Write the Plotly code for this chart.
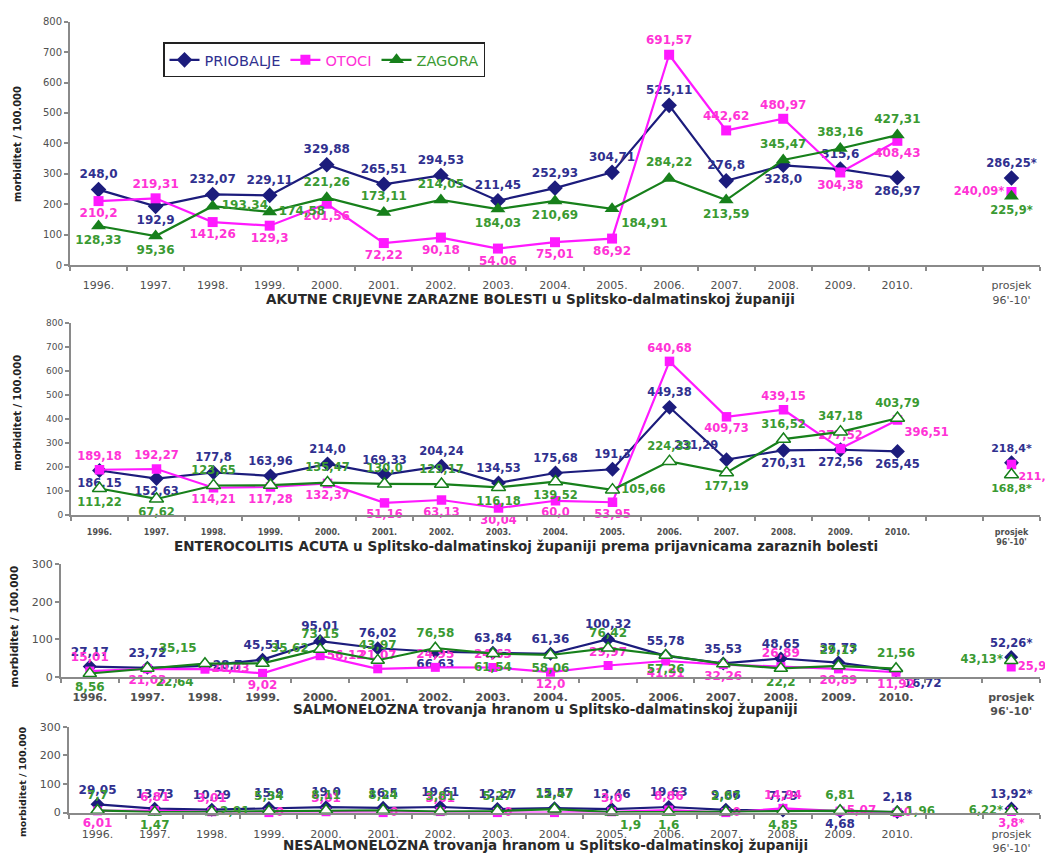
import plotly.graph_objects as go

# ---------------------------------------------------------------- data
years = ["1996.", "1997.", "1998.", "1999.", "2000.", "2001.", "2002.", "2003.",
         "2004.", "2005.", "2006.", "2007.", "2008.", "2009.", "2010."]
avg_tick = "prosjek<br>96'-10'"
series_names = ["PRIOBALJE", "OTOCI", "ZAGORA"]

# AKUTNE CRIJEVNE ZARAZNE BOLESTI
ak_priobalje = [248.0, 192.9, 232.07, 229.11, 329.88, 265.51, 294.53, 211.45,
                252.93, 304.71, 525.11, 276.8, 328.0, 315.6, 286.97]
ak_otoci = [210.2, 219.31, 141.26, 129.3, 201.56, 72.22, 90.18, 54.06,
            75.01, 86.92, 691.57, 442.62, 480.97, 304.38, 408.43]
ak_zagora = [128.33, 95.36, 193.34, 174.58, 221.26, 173.11, 214.05, 184.03,
             210.69, 184.91, 284.22, 213.59, 345.47, 383.16, 427.31]
ak_prosjek = [286.25, 240.09, 225.9]

# ENTEROCOLITIS ACUTA
en_priobalje = [186.15, 152.63, 177.8, 163.96, 214.0, 169.33, 204.24, 134.53,
                175.68, 191.3, 449.38, 231.29, 270.31, 272.56, 265.45]
en_otoci = [189.18, 192.27, 114.21, 117.28, 132.37, 51.16, 63.13, 30.04,
            60.0, 53.95, 640.68, 409.73, 439.15, 277.52, 396.51]
en_zagora = [111.22, 67.62, 123.65, 124.8, 135.47, 130.0, 129.17, 116.18,
             139.52, 105.66, 224.33, 177.19, 316.52, 347.18, 403.79]
en_prosjek = [218.4, 211.4, 168.8]

# SALMONELOZNA trovanja hranom
sa_priobalje = [27.17, 23.72, 28.7, 45.51, 95.01, 76.02, 66.63, 63.84,
                61.36, 100.32, 55.78, 35.53, 48.65, 37.73, 16.72]
sa_otoci = [15.01, 21.03, 20.03, 9.02, 56.12, 21.07, 24.95, 24.63,
            12.0, 29.97, 41.91, 32.26, 26.89, 20.89, 11.92]
sa_zagora = [8.56, 22.64, 35.15, 35.62, 73.15, 43.97, 76.58, 61.54,
             58.06, 76.42, 57.26, 34.1, 22.2, 29.17, 21.56]
sa_prosjek = [52.26, 25.9, 43.13]

# NESALMONELOZNA trovanja hranom
ne_priobalje = [29.05, 13.73, 10.29, 15.9, 19.0, 16.5, 19.61, 12.27,
                15.57, 12.46, 19.63, 9.66, 7.79, 4.68, 2.18]
ne_otoci = [6.01, 6.81, 3.01, 0, 3.01, 0, 3.61, 0,
            0, 3.0, 8.86, 0, 14.94, 5.07, 0]
ne_zagora = [7.7, 1.47, 2.91, 5.34, 8.11, 8.24, 3.81, 5.27,
             12.47, 1.9, 1.6, 2.87, 4.85, 6.81, 1.96]
ne_prosjek = [13.92, 3.8, 6.22]

# ---------------------------------------------------------------- style
NAVY, NAVY_TXT = "#1c1c7c", "#30308f"
PINK, PINK_TXT = "#ff19ff", "#ff33d6"
GREEN, GREEN_TXT = "#17801b", "#3a9a32"
AXIS = "#8a8a8a"
TICK_TXT = "#505050"
FONT = "DejaVu Sans, Verdana, sans-serif"

POS = {"T": "top center", "B": "bottom center", "L": "middle left",
       "R": "middle right", "TL": "top left", "TR": "top right",
       "BL": "bottom left", "BR": "bottom right"}

COLORS = [(NAVY, NAVY_TXT), (PINK, PINK_TXT), (GREEN, GREEN_TXT)]


def fmt(v):
    s = str(v) if isinstance(v, int) else repr(float(v))
    return s.replace(".", ",")


def markers(idx, open_triangle, size_scale=1.0):
    line_col, _ = COLORS[idx]
    if idx == 0:
        return dict(symbol="diamond", size=12 * size_scale, color=line_col)
    if idx == 1:
        return dict(symbol="square", size=10 * size_scale, color=line_col)
    if open_triangle:
        return dict(symbol="triangle-up", size=13 * size_scale, color="white",
                    line=dict(color=line_col, width=1.5))
    return dict(symbol="triangle-up", size=13 * size_scale, color=line_col)


panels = [
    dict(ax="", values=[ak_priobalje, ak_otoci, ak_zagora], avg=ak_prosjek,
         pos=[["T", "B", "T", "T", "T", "T", "T", "T", "T", "T", "T", "T", "B", "T", "B"],
              ["B", "T", "B", "B", "B", "B", "B", "B", "B", "B", "T", "T", "T", "B", "B"],
              ["B", "B", "R", "R", "T", "T", "T", "B", "B", "BR", "T", "B", "T", "T", "T"]],
         avgpos=["T", "L", "B"], hidden=[[], [], []], open_tri=False,
         label_size=12, tick_size=11, ytick_size=10, msc=1.0,
         xdom=[70 / 1045, 1040 / 1045], ydom=[1 - 263 / 859, 1 - 16 / 859],
         yrange=[0, 800], standoff=9, tick_bold=False,
         title="AKUTNE CRIJEVNE ZARAZNE BOLESTI u Splitsko-dalmatinskoj županiji",
         title_xy=(530, 297), ytitle_xy=(18, 140), ytitle_size=10),
    dict(ax="2", values=[en_priobalje, en_otoci, en_zagora], avg=en_prosjek,
         pos=[["B", "B", "T", "T", "T", "T", "T", "T", "T", "T", "T", "TL", "B", "B", "B"],
              ["T", "T", "B", "B", "B", "B", "B", "B", "B", "B", "T", "B", "T", "T", "BR"],
              ["B", "B", "T", "T", "T", "T", "T", "B", "B", "R", "T", "B", "T", "T", "T"]],
         avgpos=["T", "BR", "B"], hidden=[[], [], [3]], open_tri=True,
         label_size=11.5, tick_size=8, ytick_size=9, msc=0.95,
         xdom=[71 / 1045, 1040 / 1045], ydom=[1 - 517 / 859, 1 - 322 / 859],
         yrange=[0, 800], standoff=8, tick_bold=True,
         title="ENTEROCOLITIS ACUTA u Splitsko-dalmatinskoj županiji prema prijavnicama zaraznih bolesti",
         title_xy=(526, 548), ytitle_xy=(18, 413), ytitle_size=10),
    dict(ax="3", values=[sa_priobalje, sa_otoci, sa_zagora], avg=sa_prosjek,
         pos=[["T", "T", "R", "T", "T", "T", "B", "T", "T", "T", "T", "T", "T", "T", "BR"],
              ["T", "B", "R", "B", "R", "T", "T", "T", "B", "T", "B", "B", "T", "B", "B"],
              ["B", "BR", "TL", "TR", "T", "T", "T", "B", "B", "T", "B", "T", "B", "T", "T"]],
         avgpos=["T", "R", "L"], hidden=[[], [], [11]], open_tri=True,
         label_size=12, tick_size=11, ytick_size=11, msc=0.9,
         xdom=[61 / 1045, 1040 / 1045], ydom=[1 - 681 / 859, 1 - 567 / 859],
         yrange=[0, 300], standoff=9, tick_bold=True,
         title="SALMONELOZNA trovanja hranom u Splitsko-dalmatinskoj županiji",
         title_xy=(545, 714), ytitle_xy=(14, 630), ytitle_size=10.5),
    dict(ax="4", values=[ne_priobalje, ne_otoci, ne_zagora], avg=ne_prosjek,
         pos=[["T", "T", "T", "T", "T", "T", "T", "T", "T", "T", "T", "T", "T", "B", "T"],
              ["B", "T", "T", "R", "T", "R", "T", "R", "T", "T", "T", "R", "T", "R", "R"],
              ["T", "B", "R", "T", "T", "T", "T", "T", "T", "BR", "B", "T", "B", "T", "R"]],
         avgpos=["T", "B", "L"], hidden=[[], [8], []], open_tri=True,
         label_size=12, tick_size=11, ytick_size=11, msc=0.9,
         xdom=[69 / 1045, 1040 / 1045], ydom=[1 - 819 / 859, 1 - 732 / 859],
         yrange=[0, 300], standoff=10, tick_bold=False,
         title="NESALMONELOZNA trovanja hranom u Splitsko-dalmatinskoj županiji",
         title_xy=(545, 852), ytitle_xy=(22, 788), ytitle_size=9.5),
]

fig = go.Figure()
layout = {}
annotations = []

for p in panels:
    xa, ya = "x" + p["ax"], "y" + p["ax"]
    xs = list(range(len(years)))
    for i, vals in enumerate(p["values"]):
        line_col, txt_col = COLORS[i]
        labels = ["" if k in p["hidden"][i] else fmt(v) for k, v in enumerate(vals)]
        fig.add_trace(go.Scatter(
            x=xs, y=vals, xaxis=xa, yaxis=ya, mode="lines+markers+text",
            line=dict(color=line_col, width=2.2),
            marker=markers(i, p["open_tri"], p["msc"]),
            text=labels, textposition=[POS[c] for c in p["pos"][i]],
            textfont=dict(family=FONT, size=p["label_size"], color=txt_col, weight="bold"),
            cliponaxis=False, showlegend=False, hoverinfo="skip"))
        fig.add_trace(go.Scatter(
            x=[16], y=[p["avg"][i]], xaxis=xa, yaxis=ya, mode="markers+text",
            marker=markers(i, p["open_tri"], p["msc"]),
            text=[fmt(p["avg"][i]) + "*"], textposition=POS[p["avgpos"][i]],
            textfont=dict(family=FONT, size=p["label_size"] - 0.5, color=txt_col, weight="bold"),
            cliponaxis=False, showlegend=False, hoverinfo="skip"))

    key = p["ax"]
    layout["xaxis" + key] = dict(
        domain=p["xdom"], anchor=ya, range=[-0.5, 16.5],
        tickmode="array", tickvals=list(range(15)) + [16], ticktext=years + [avg_tick],
        ticks="", ticklabelstandoff=p["standoff"],
        tickfont=dict(family=FONT, size=p["tick_size"], color=TICK_TXT,
                      weight="bold" if p["tick_bold"] else "normal"),
        showline=True, linecolor=AXIS, linewidth=2, showgrid=False, zeroline=False,
        minor=dict(tickmode="array", tickvals=[k - 0.5 for k in range(18)],
                   ticks="outside", ticklen=4, tickwidth=1.5, tickcolor=AXIS, showgrid=False),
        fixedrange=True)
    layout["yaxis" + key] = dict(
        domain=p["ydom"], anchor=xa, range=p["yrange"], dtick=100,
        ticks="outside", ticklen=4, tickwidth=1.5, tickcolor=AXIS,
        tickfont=dict(family=FONT, size=p["ytick_size"], color=TICK_TXT),
        showline=True, linecolor=AXIS, linewidth=2, showgrid=False, zeroline=False,
        fixedrange=True)

    tx, ty = p["title_xy"]
    annotations.append(dict(
        text=p["title"], x=tx / 1045, y=1 - ty / 859, xref="paper", yref="paper",
        showarrow=False, xanchor="center", yanchor="middle",
        font=dict(family=FONT, size=13.5, color="#2a2a2a", weight="bold")))
    yx, yy = p["ytitle_xy"]
    annotations.append(dict(
        text="morbiditet / 100.000", x=yx / 1045, y=1 - yy / 859, xref="paper",
        yref="paper", showarrow=False, textangle=-90, xanchor="center", yanchor="middle",
        font=dict(family=FONT, size=p["ytitle_size"], color="#222222", weight="bold")))

# legend entries
for i, name in enumerate(series_names):
    line_col, txt_col = COLORS[i]
    fig.add_trace(go.Scatter(
        x=[None], y=[None], mode="lines+markers",
        line=dict(color=line_col, width=2.2), marker=markers(i, False),
        name=f'<span style="color:{txt_col}">{name}</span>', showlegend=True))

fig.update_layout(
    width=1045, height=859, margin=dict(l=0, r=0, t=0, b=0),
    paper_bgcolor="white", plot_bgcolor="white",
    font=dict(family=FONT),
    showlegend=True,
    legend=dict(orientation="h", x=163 / 1045, y=1 - 37 / 859, xanchor="left",
                yanchor="top", bgcolor="white", bordercolor="#222222", borderwidth=1.5,
                font=dict(family=FONT, size=14.5), itemwidth=30, tracegroupgap=0),
    annotations=annotations,
    **layout)

fig.write_html("out.html")
